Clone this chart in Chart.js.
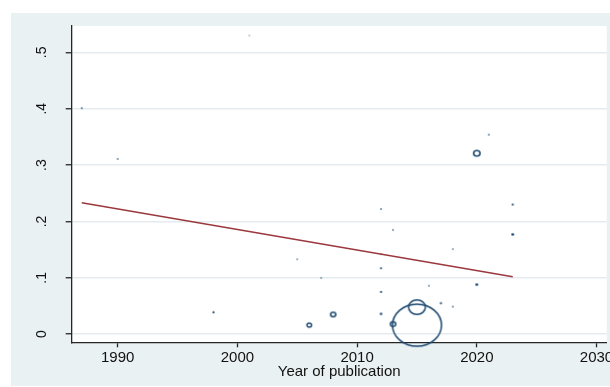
<!DOCTYPE html>
<html>
<head>
<meta charset="utf-8">
<script src="https://cdn.jsdelivr.net/npm/chart.js@4.4.1/dist/chart.umd.min.js"></script>
<style>
  html, body { margin: 0; padding: 0; background: #fff; }
  canvas { display: block; }
</style>
</head>
<body>
<canvas id="c" width="610" height="387"></canvas>
<script>
// Study-level estimates: publication year, effect size and study weight (%)
const years   = [1987, 1990, 2001, 2021, 2020, 2023, 2012, 2013, 2023, 2018, 2012, 2005, 2012,
                 2007, 2020, 2016, 2012, 2017, 2018, 2015, 1998, 2012, 2008, 2013, 2006, 2015];
const effects = [0.401, 0.311, 0.530, 0.354, 0.321, 0.230, 0.222, 0.185, 0.177, 0.151, 0.142, 0.133, 0.117,
                 0.100, 0.088, 0.086, 0.075, 0.055, 0.049, 0.048, 0.039, 0.036, 0.035, 0.018, 0.016, 0.016];
const weights = [0.13, 0.12, 0.06, 0.12, 1.45, 0.18, 0.12, 0.10, 0.30, 0.08, 0.08, 0.08, 0.15,
                 0.08, 0.30, 0.10, 0.18, 0.20, 0.12, 9.8, 0.20, 0.25, 0.93, 1.0, 0.71, 83.1];

// Fitted meta-regression line
const fitYears  = [1987, 2023];
const fitValues = [0.2333, 0.102];

// Axis ticks and labels
const xTicks = [1990, 2000, 2010, 2020, 2030];
const yTicks = [0, 0.1, 0.2, 0.3, 0.4, 0.5];
const yTickLabels = ['0', '.1', '.2', '.3', '.4', '.5'];
const xTitle = 'Year of publication';

const NAVY = '#1a476f';
const MAROON = '#9b383d';
const REGION = '#eaf1f3';
const GRID = '#e4ecef';
const AXIS = '#262626';
const TEXT = '#111111';
const FONT = "'Liberation Sans', Arial, sans-serif";

// Marker area proportional to weight
const bubbleScale = 2.49;
const radiusOf = w => bubbleScale * Math.sqrt(w);

// Hollow markers, drawn slightly wider than tall; very small ones become solid dots
const SX = 1.08, SY = 0.93;
function markerImage(r) {
  const rx = r * SX, ry = r * SY;
  const solid = r < 1.6;
  const lw = solid ? 0 : 1.5;
  const c = document.createElement('canvas');
  c.width = Math.ceil(2 * rx + lw + 2);
  c.height = Math.ceil(2 * ry + lw + 2);
  const g = c.getContext('2d');
  g.beginPath();
  g.ellipse(c.width / 2, c.height / 2, rx, ry, 0, 0, Math.PI * 2);
  if (solid) {
    g.fillStyle = NAVY;
    g.fill();
  } else {
    g.strokeStyle = NAVY;
    g.lineWidth = lw;
    g.stroke();
  }
  return c;
}

const bubbles = years.map((x, i) => ({ x, y: effects[i], r: radiusOf(weights[i]) }));
const markers = bubbles.map(p => markerImage(p.r));
const fitLine = fitYears.map((x, i) => ({ x, y: fitValues[i] }));

const framePlugin = {
  id: 'frame',
  beforeDraw(chart) {
    const { ctx, chartArea: a } = chart;
    ctx.save();
    ctx.fillStyle = '#fff';
    ctx.fillRect(0, 0, chart.width, chart.height);
    ctx.fillStyle = REGION;
    ctx.fillRect(11, 13, chart.width - 11, 373);
    ctx.fillStyle = '#fff';
    ctx.fillRect(a.left, a.top, a.right - a.left, a.bottom - a.top);
    ctx.restore();
  },
  afterDraw(chart) {
    // vertical tick labels on the y axis
    const { ctx, chartArea: a } = chart;
    const ys = chart.scales.y;
    ctx.save();
    ctx.fillStyle = TEXT;
    ctx.font = '14px ' + FONT;
    ctx.textAlign = 'center';
    ctx.textBaseline = 'alphabetic';
    yTicks.forEach((v, i) => {
      ctx.save();
      ctx.translate(a.left - 26, ys.getPixelForValue(v));
      ctx.rotate(-Math.PI / 2);
      ctx.fillText(yTickLabels[i], 0, 0);
      ctx.restore();
    });
    ctx.restore();
  }
};

new Chart(document.getElementById('c'), {
  type: 'bubble',
  data: {
    datasets: [
      {
        type: 'line',
        data: fitLine,
        borderColor: MAROON,
        borderWidth: 1.5,
        pointRadius: 0,
        fill: false,
        tension: 0,
        order: 0,
        clip: false
      },
      {
        type: 'bubble',
        data: bubbles,
        pointStyle: markers,
        backgroundColor: 'rgba(0,0,0,0)',
        borderColor: NAVY,
        order: 1,
        clip: false
      }
    ]
  },
  options: {
    responsive: false,
    devicePixelRatio: 1,
    animation: false,
    events: [],
    layout: { autoPadding: false, padding: { left: 0, top: 26, right: 3.3, bottom: 0 } },
    plugins: {
      legend: { display: false },
      tooltip: { enabled: false }
    },
    scales: {
      x: {
        type: 'linear',
        min: 1986.16,
        max: 2030.85,
        afterBuildTicks: s => { s.ticks = xTicks.map(v => ({ value: v })); },
        afterFit: s => { s.height = 44.7; s.paddingLeft = 0; s.paddingRight = 0; },
        grid: { drawOnChartArea: false, drawTicks: true, tickLength: 5, tickColor: AXIS, tickWidth: 1.3 },
        border: { display: true, color: AXIS, width: 1.3 },
        ticks: {
          color: TEXT,
          font: { family: FONT, size: 15 },
          padding: 2,
          maxRotation: 0,
          autoSkip: false,
          callback: v => String(v)
        },
        title: {
          display: true,
          text: xTitle,
          color: TEXT,
          font: { family: FONT, size: 15 },
          padding: { top: 0, bottom: 6 }
        }
      },
      y: {
        type: 'linear',
        min: -0.0144,
        max: 0.5468,
        afterBuildTicks: s => { s.ticks = yTicks.map(v => ({ value: v })); },
        afterFit: s => { s.width = 71.7; s.paddingTop = 0; s.paddingBottom = 0; },
        grid: { color: GRID, lineWidth: 1.5, drawTicks: true, tickLength: 6, tickColor: AXIS, tickWidth: 1.3 },
        border: { display: true, color: AXIS, width: 1.3 },
        ticks: { display: false }
      }
    }
  },
  plugins: [framePlugin]
});
</script>
</body>
</html>
